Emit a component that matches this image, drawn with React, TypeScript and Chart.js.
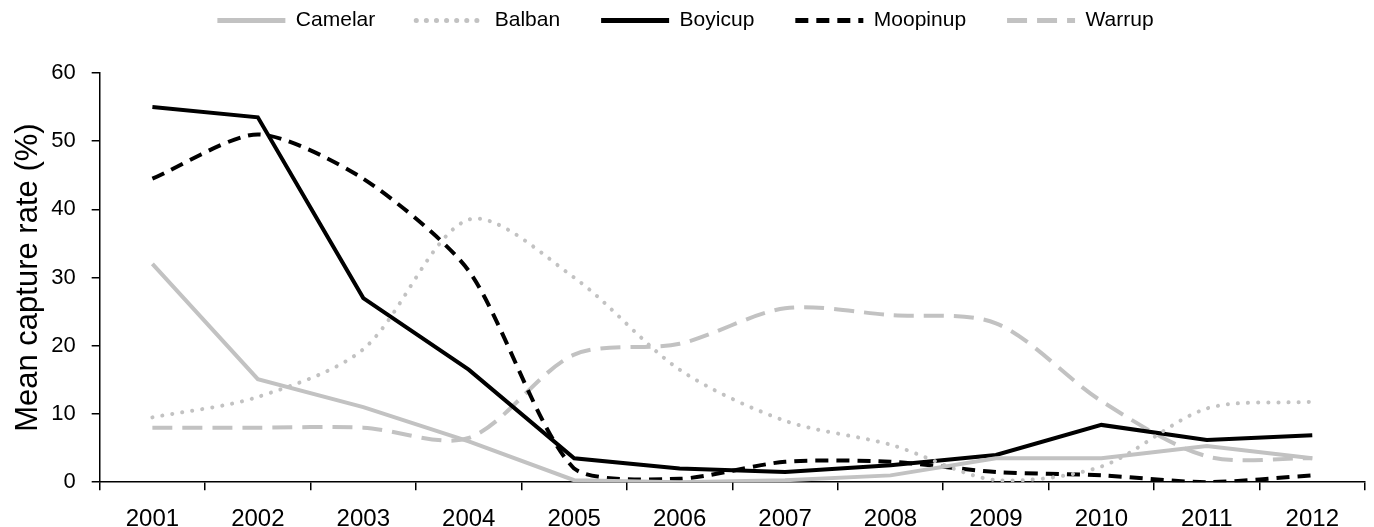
import React, { useEffect, useRef } from "react";
import { Chart, registerables } from "chart.js";

Chart.register(...registerables);

const years = ["2001", "2002", "2003", "2004", "2005", "2006", "2007", "2008", "2009", "2010", "2011", "2012"];
const camelar = [32, 15.1, 11, 6, 0.3, 0, 0.3, 1, 3.5, 3.5, 5.3, 3.5];
const balban = [9.5, 12.5, 19.5, 38.5, 30, 16.5, 9, 5.5, 0.3, 2.3, 10.8, 11.8];
const boyicup = [55, 53.5, 27, 16.5, 3.5, 2, 1.5, 2.5, 4, 8.4, 6.2, 6.9];
const moopinup = [44.5, 51, 44.5, 31, 2, 0.5, 3, 3, 1.5, 1, 0, 1];
const warrup = [8, 8, 8, 6.5, 18.7, 20.3, 25.5, 24.5, 23.3, 11.9, 3.8, 3.5];

const GRAY = "#c2c2c2";
const BLACK = "#000000";
const FONT = "'Liberation Sans', Arial, sans-serif";

const legendMargin = {
  id: "legendMargin",
  beforeInit(chart: any) {
    const legend = chart.legend;
    if (!legend) return;
    const origFit = legend.fit;
    legend.fit = function fit() {
      origFit.bind(legend)();
      this.height += 32;
    };
  },
};

export default function App() {
  const ref = useRef<HTMLCanvasElement | null>(null);
  useEffect(() => {
    if (!ref.current) return;
    const base = { pointRadius: 0, pointHoverRadius: 0, borderWidth: 4, fill: false };
    const chart = new Chart(ref.current, {
      type: "line",
      data: {
        labels: years,
        datasets: [
          { ...base, label: "Camelar", data: camelar, borderColor: GRAY, backgroundColor: GRAY, tension: 0 },
          { ...base, label: "Balban", data: balban, borderColor: GRAY, backgroundColor: GRAY, borderDash: [0.1, 10], borderCapStyle: "round", tension: 0.3 },
          { ...base, label: "Boyicup", data: boyicup, borderColor: BLACK, backgroundColor: BLACK, tension: 0 },
          { ...base, label: "Moopinup", data: moopinup, borderColor: BLACK, backgroundColor: BLACK, borderDash: [13, 8], tension: 0.25 },
          { ...base, label: "Warrup", data: warrup, borderColor: GRAY, backgroundColor: GRAY, borderDash: [20, 10], tension: 0.3 },
        ] as any,
      },
      plugins: [legendMargin],
      options: {
        animation: false,
        responsive: false,
        layout: { padding: { left: 6, right: 9, top: -31, bottom: -22 } },
        plugins: {
          tooltip: { enabled: false },
          legend: {
            position: "top",
            labels: {
              usePointStyle: true,
              pointStyle: "line",
              pointStyleWidth: 68,
              boxHeight: 21,
              color: "#000",
              padding: 41,
              font: { family: FONT, size: 21 },
              generateLabels: (c: any) => {
                const items = (Chart.defaults as any).plugins.legend.labels.generateLabels(c);
                return items.map((it: any) => {
                  const ds: any = c.data.datasets[it.datasetIndex];
                  return {
                    ...it,
                    lineDash: ds.borderDash || [],
                    lineWidth: 5,
                    lineCap: ds.borderCapStyle || "butt",
                    strokeStyle: ds.borderColor,
                    fillStyle: ds.borderColor,
                  };
                });
              },
            },
          },
        },
        scales: {
          x: {
            offset: true,
            grid: { offset: true, drawOnChartArea: false, drawTicks: true, tickLength: 8, color: "#000", lineWidth: 1.5 },
            border: { color: "#000", width: 1.5 },
            ticks: { color: "#000", font: { family: FONT, size: 24 }, padding: 15, maxRotation: 0 },
          },
          y: {
            min: 0,
            max: 60,
            grid: { drawOnChartArea: false, drawTicks: true, tickLength: 8, color: "#000", lineWidth: 1.5 },
            border: { color: "#000", width: 1.5 },
            ticks: { stepSize: 10, color: "#000", font: { family: FONT, size: 22 }, padding: 16 },
            title: {
              display: true,
              text: "Mean capture rate (%)",
              color: "#000",
              font: { family: FONT, size: 31 },
              padding: { top: 4, bottom: -12 },
            },
          },
        },
      },
    });
    return () => chart.destroy();
  }, []);
  return (
    <div style={{ position: "fixed", left: 0, top: 0, width: 1374, height: 527, background: "#fff" }}>
      <canvas ref={ref} width={1374} height={527} style={{ width: 1374, height: 527, display: "block" }} />
    </div>
  );
}
